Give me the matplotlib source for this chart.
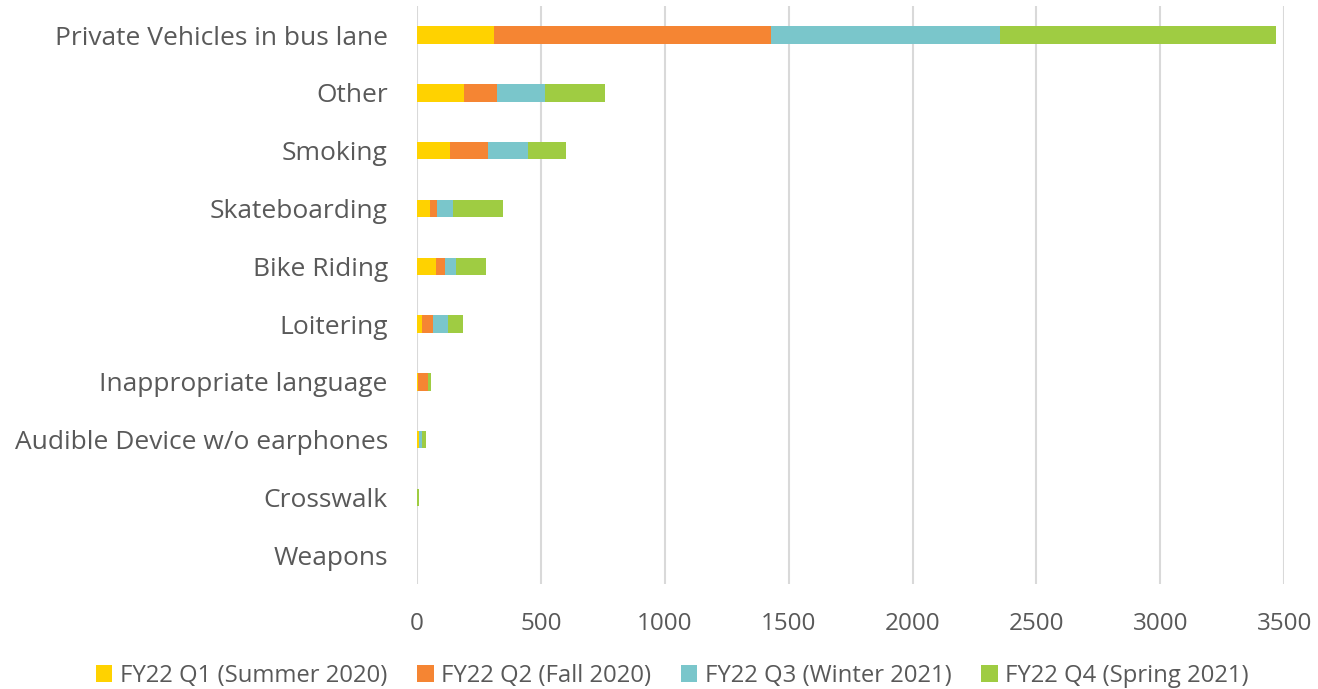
import matplotlib.pyplot as plt
import numpy as np

plt.rcParams['font.family'] = ['Open Sans', 'DejaVu Sans']

# categories, top to bottom as in the chart
categories = ["Private Vehicles in bus lane", "Other", "Smoking", "Skateboarding",
              "Bike Riding", "Loitering", "Inappropriate language",
              "Audible Device w/o earphones", "Crosswalk", "Weapons"]

q1 = [311, 190, 133, 52, 76, 21, 5, 8, 0, 0]
q2 = [1118, 133, 153, 30, 36, 45, 40, 1, 0, 0]
q3 = [925, 194, 161, 65, 47, 58, 0, 12, 0, 0]
q4 = [1114, 242, 153, 200, 119, 62, 12, 15, 9, 0]

series_names = ["FY22 Q1 (Summer 2020)", "FY22 Q2 (Fall 2020)",
                "FY22 Q3 (Winter 2021)", "FY22 Q4 (Spring 2021)"]
colors = ["#FFD200", "#F58533", "#7AC6CB", "#9FCC42"]

text_col = "#595959"

fig = plt.figure(figsize=(13.18, 6.89), dpi=100)
ax = fig.add_axes([0.3164, 0.152, 0.658, 0.839])

y = np.arange(len(categories))
left = np.zeros(len(categories))
for vals, name, c in zip([q1, q2, q3, q4], series_names, colors):
    vals = np.array(vals, dtype=float)
    ax.barh(y, vals, left=left, height=0.3, color=c, label=name, zorder=3)
    left += vals

ax.set_yticks(y)
ax.set_yticklabels(categories, fontsize=19, color=text_col)
ax.set_ylim(len(categories) - 0.5, -0.5)
ax.set_xlim(0, 3500)
ax.set_xticks(np.arange(0, 3501, 500))
ax.tick_params(axis='x', labelsize=17.5, colors=text_col, length=0, pad=20)
ax.tick_params(axis='y', length=0, pad=21)
ax.grid(axis='x', color='#D9D9D9', linewidth=1.5, zorder=0)
for s in ax.spines.values():
    s.set_visible(False)

fig.legend(loc='lower center', bbox_to_anchor=(0.51, -0.03), ncol=4, frameon=False,
           fontsize=17.2, labelcolor=text_col, handlelength=0.7, handleheight=0.7,
           handletextpad=0.3, columnspacing=1.25)

fig.savefig("out.png", dpi=100)
